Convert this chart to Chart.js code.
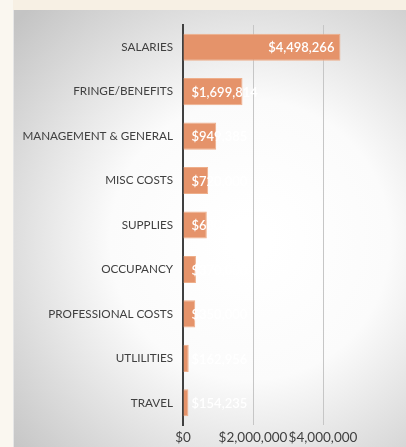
<!DOCTYPE html>
<html><head><meta charset="utf-8">
<script src="https://cdn.jsdelivr.net/npm/chart.js@4/dist/chart.umd.min.js"></script>
<style>html,body{margin:0;padding:0;background:#faf7f0;}#wrap{width:406px;height:447px;position:relative;}</style>
</head><body><div id="wrap"><canvas id="c" width="406" height="447"></canvas></div>
<script>
const categories = ["SALARIES","FRINGE/BENEFITS","MANAGEMENT & GENERAL","MISC COSTS","SUPPLIES","OCCUPANCY","PROFESSIONAL COSTS","UTLILITIES","TRAVEL"];
const amounts = [4498266,1699814,949385,720000,680000,370000,350000,162956,154235];
const tickValues = [0,2000000,4000000];

const fmt = v => '$' + Math.round(v).toLocaleString('en-US');

const bgPlugin = {
  id:'bg',
  beforeDraw(chart){
    const ctx = chart.ctx;
    ctx.save();
    ctx.fillStyle = '#faf7f0';
    ctx.fillRect(0,0,406,447);
    ctx.fillStyle = '#f7f0e4';
    ctx.fillRect(13,0,393,10);
    const g = ctx.createRadialGradient(250,240,20,250,240,320);
    g.addColorStop(0,'#ffffff');
    g.addColorStop(0.4,'#fbfbfb');
    g.addColorStop(1,'#c4c4c4');
    ctx.fillStyle = g;
    ctx.fillRect(13,10,393,437);
    ctx.strokeStyle = '#e6e6e6';
    ctx.lineWidth = 1;
    ctx.beginPath(); ctx.moveTo(13.5,10); ctx.lineTo(13.5,447); ctx.stroke();
    ctx.restore();
  }
};

const labelPlugin = {
  id:'vals',
  afterDatasetsDraw(chart){
    const ctx = chart.ctx;
    const meta = chart.getDatasetMeta(0);
    ctx.save();
    ctx.font = '600 13px Lato, "Open Sans", sans-serif';
    ctx.fillStyle = '#ffffff';
    ctx.textBaseline = 'middle';
    meta.data.forEach((bar,i)=>{
      const t = fmt(amounts[i]);
      const w = ctx.measureText(t).width;
      const bw = bar.x - bar.base;
      if (w + 14 < bw) { ctx.textAlign='right'; ctx.fillText(t, bar.x-6, bar.y+1); }
      else { ctx.textAlign='left'; ctx.fillText(t, bar.base+8, bar.y+1); }
    });
    ctx.restore();
  }
};

new Chart(document.getElementById('c'), {
  type:'bar',
  data:{ labels:categories, datasets:[{ data:amounts, backgroundColor:'#e5936a', borderColor:'#eeae8a', borderWidth:1, borderSkipped:'start', barPercentage:0.61, categoryPercentage:1 }] },
  options:{
    indexAxis:'y', responsive:false, animation:false,
    layout:{ padding:{ top:25, right:48, left:0, bottom:0 } },
    plugins:{ legend:{display:false}, tooltip:{enabled:false} },
    scales:{
      x:{ min:0, max:5000000,
        afterBuildTicks(s){ s.ticks = tickValues.map(v=>({value:v})); },
        afterFit(s){ s.height = 22; },
        grid:{ color:'#c6c6c6', lineWidth:1, drawTicks:false },
        border:{ display:false },
        ticks:{ autoSkip:false, maxRotation:0, padding:5, color:'#404040', font:{family:'Lato, "Open Sans", sans-serif', size:13.5}, callback:v=>fmt(v) } },
      y:{
        afterFit(s){ s.width = 183; },
        grid:{ display:false, drawTicks:false },
        border:{ color:'#404040', width:2 },
        ticks:{ padding:10, color:'#404040', font:{family:'Lato, "Open Sans", sans-serif', size:11.7} } }
    }
  },
  plugins:[bgPlugin,labelPlugin]
});
</script></body></html>
